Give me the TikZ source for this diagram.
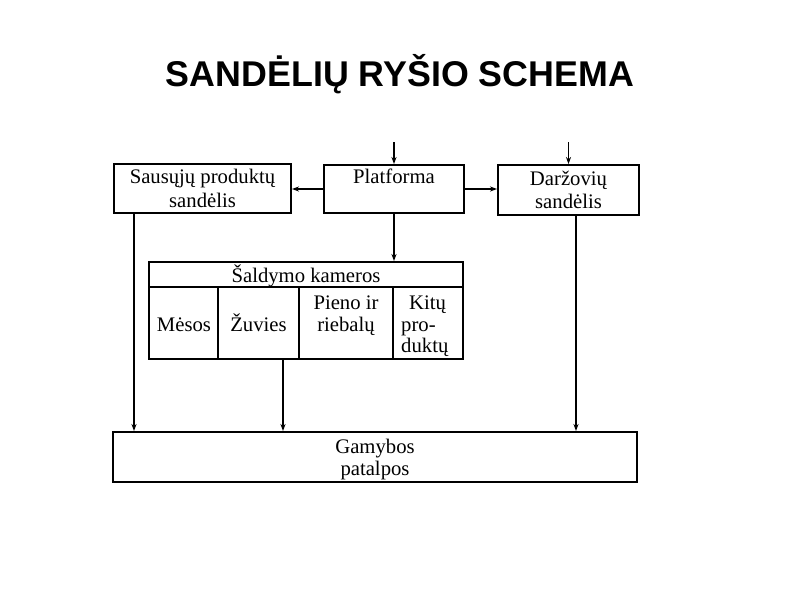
\documentclass[tikz,border=0pt]{standalone}
\usepackage{fontspec}
\setmainfont{Liberation Serif}
\newfontfamily\titlefont{Liberation Sans}
\usetikzlibrary{arrows.meta}
\begin{document}
\begin{tikzpicture}[x=1pt,y=-1pt,
  box/.style={draw,line width=1.9pt,inner sep=0pt,rectangle},
  divider/.style={line width=1.6pt},
  conn/.style={line width=1.3pt,-{Stealth[length=7pt,width=5pt]}},
  lbl/.style={anchor=base,inner sep=0pt,font=\fontsize{20.7}{23}\selectfont},
  lblw/.style={anchor=base west,inner sep=0pt,font=\fontsize{20.7}{23}\selectfont}]
\useasboundingbox[fill=white] (0,0) rectangle (800,600);
% title
\node[anchor=base,inner sep=0pt,font=\titlefont\bfseries\fontsize{35.8}{40}\selectfont] (title) at (400,86) {SANDĖLIŲ RYŠIO SCHEMA};
% boxes
\node[box,minimum width=177pt,minimum height=49pt] (saus) at (202.5,188.5) {};
\node[box,minimum width=140pt,minimum height=48pt] (plat) at (394,189) {};
\node[box,minimum width=141pt,minimum height=50pt] (darz) at (568.5,190) {};
\node[box,minimum width=314pt,minimum height=97pt] (cold) at (306,310.5) {};
\node[box,minimum width=524pt,minimum height=50pt] (gam) at (375,457) {};
% cold chamber internal lines
\coordinate (hl) at (149,287);
\coordinate (c1) at (218,287);
\coordinate (c2) at (299,287);
\coordinate (c3) at (393,287);
\draw[divider] (hl) -- (hl -| cold.east);
\draw[divider] (c1) -- (c1 |- cold.south);
\draw[divider] (c2) -- (c2 |- cold.south);
\draw[divider] (c3) -- (c3 |- cold.south);
% labels
\node[lbl] (sausA) at (202.5,183) {Sausųjų produktų};
\node[lbl] (sausB) at (202.5,207) {sandėlis};
\node[lbl] (platA) at (394,183) {Platforma};
\node[lbl] (darzA) at (568.5,185) {Daržovių};
\node[lbl] (darzB) at (568.5,208) {sandėlis};
\node[lbl] (coldH) at (306,282) {Šaldymo kameros};
\node[lbl] (mesos) at (184,331) {Mėsos};
\node[lbl] (zuv) at (258.5,331) {Žuvies};
\node[lbl] (pienA) at (346,309) {Pieno ir};
\node[lbl] (pienB) at (346,331) {riebalų};
\node[lblw] (kitA) at (409,309) {Kitų};
\node[lblw] (kitB) at (401,331) {pro-};
\node[lblw] (kitC) at (401,352) {duktų};
\node[lbl] (gamA) at (375,453) {Gamybos};
\node[lbl] (gamB) at (375,475) {patalpos};
% connectors
\coordinate (inP) at (394,142);
\coordinate (inD) at (568.5,142);
\draw[conn] (inP) -- (plat.north);
\draw[conn] (inD) -- (darz.north);
\draw[conn] (plat.west) -- (plat.west -| saus.east);
\draw[conn] (plat.east) -- (plat.east -| darz.west);
\draw[conn] (plat.south) -- (plat.south |- cold.north);
\coordinate (sd) at (134,213);
\coordinate (cd) at (283,359);
\coordinate (dd) at (576,215);
\draw[conn] (sd) -- (sd |- gam.north);
\draw[conn] (cd) -- (cd |- gam.north);
\draw[conn] (dd) -- (dd |- gam.north);
\end{tikzpicture}
\end{document}
